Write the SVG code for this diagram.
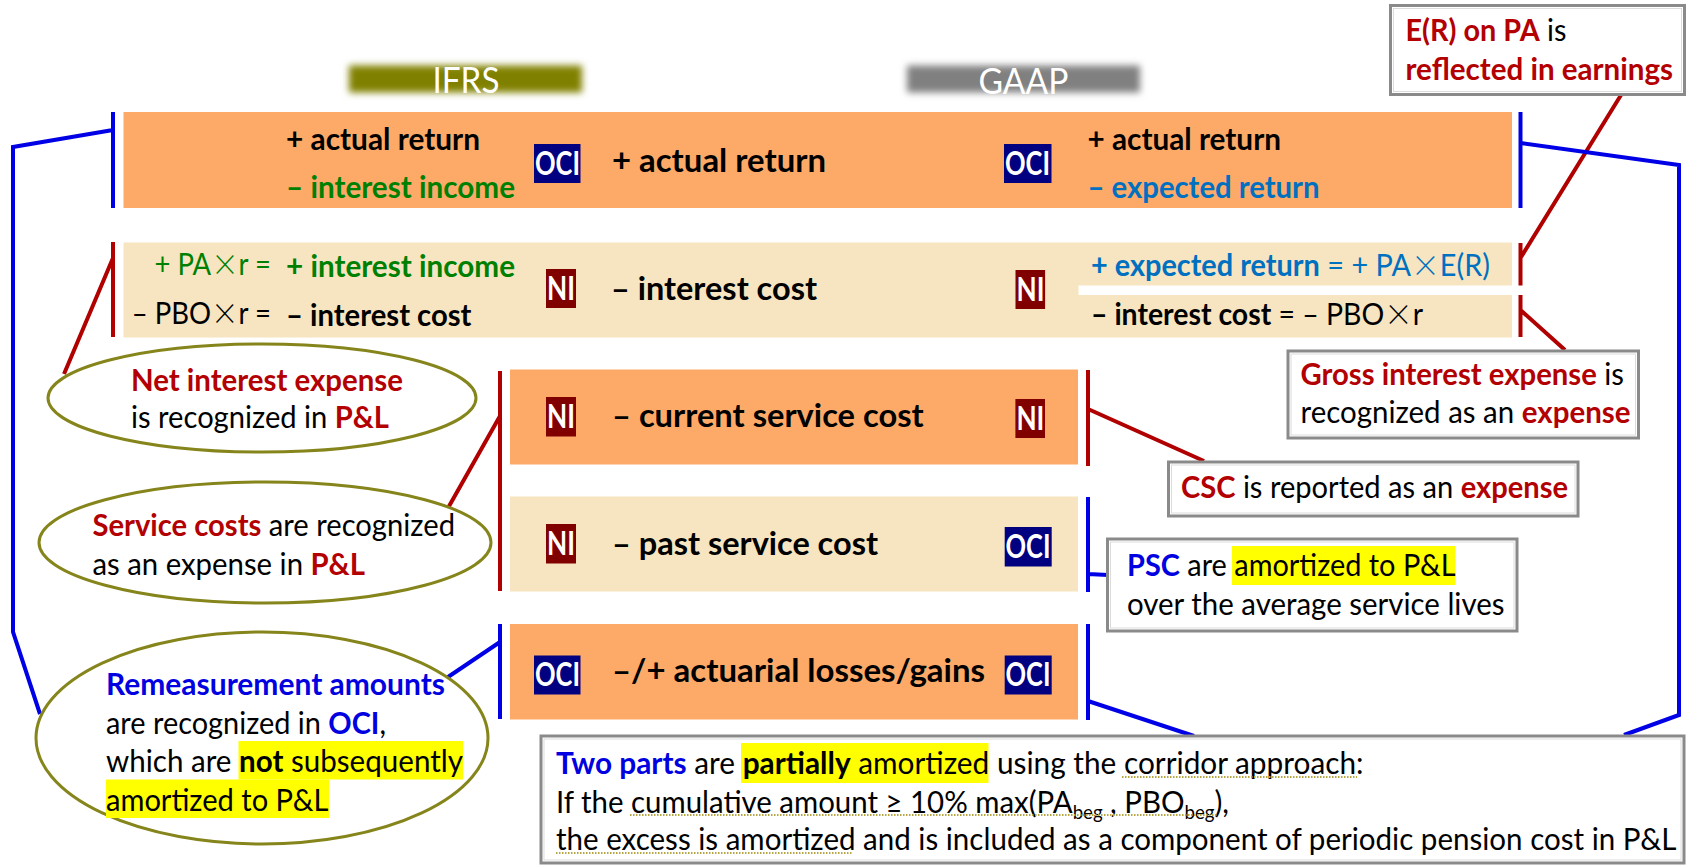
<svg xmlns="http://www.w3.org/2000/svg" width="1690" height="868" viewBox="0 0 1690 868">
<style>
text{font-family:"Lato","Open Sans","Noto Sans",sans-serif;font-size:30px;fill:#000}
.b{font-weight:700}
.big{font-size:33px;font-weight:700}
.r{fill:#b30000}.bl{fill:#0000e0}.g{fill:#008000}.e{fill:#0070c0}
.x{font-family:"Noto Sans CJK SC","Lato",sans-serif;font-weight:300}
.hdr{font-size:36px;fill:#fff}
.bdg{font-size:32px;font-weight:700;fill:#fff}
.orange{fill:#fdaa69}.tan{fill:#f6e5c0}
.ni{fill:#800000}.oci{fill:#000080}
.box{fill:#fff;stroke:#8a8a8a;stroke-width:3}
.inner{fill:none;stroke:#dcdcdc;stroke-width:1}
.ell{fill:#fff;stroke:#85851c;stroke-width:3}
.hl{fill:#ffff00}
.lr{fill:none;stroke:#b00000;stroke-width:4}
.lb{fill:none;stroke:#0000e6;stroke-width:4}
.dot{stroke:#b5a642;stroke-width:2;stroke-dasharray:1.5 1.5;fill:none}
</style>
<defs><filter id="soft" x="-10%" y="-40%" width="120%" height="180%"><feGaussianBlur stdDeviation="3.5"/></filter></defs>

<g id="header-ifrs"><rect x="349" y="65.5" width="233" height="27" fill="#808000" filter="url(#soft)"/><text class="hdr" x="432.5" y="93" textLength="67" lengthAdjust="spacingAndGlyphs">IFRS</text></g>
<g id="header-gaap"><rect x="907" y="65.5" width="233" height="27" fill="#808080" filter="url(#soft)"/><text class="hdr" x="978.5" y="94" textLength="90" lengthAdjust="spacingAndGlyphs">GAAP</text></g>

<g id="row-return">
<rect class="orange" x="123.5" y="112" width="1388.5" height="96"/>
<text class="b" x="286" y="149.5" textLength="194" lengthAdjust="spacingAndGlyphs">+ actual return</text>
<text class="b g" x="286" y="198" textLength="229" lengthAdjust="spacingAndGlyphs">– interest income</text>
<rect class="oci" x="534" y="144" width="46.5" height="39"/><text class="bdg" x="535" y="175" textLength="45" lengthAdjust="spacingAndGlyphs">OCI</text>
<text class="big" x="612" y="172" textLength="214" lengthAdjust="spacingAndGlyphs">+ actual return</text>
<rect class="oci" x="1004" y="144" width="47.5" height="39"/><text class="bdg" x="1005" y="175" textLength="45" lengthAdjust="spacingAndGlyphs">OCI</text>
<text class="b" x="1087.5" y="149.5" textLength="193.5" lengthAdjust="spacingAndGlyphs">+ actual return</text>
<text class="b e" x="1087.5" y="198" textLength="232" lengthAdjust="spacingAndGlyphs">– expected return</text>
</g>

<g id="row-interest">
<rect class="tan" x="123.5" y="242.5" width="1388.5" height="95"/>
<rect x="1078.5" y="285.5" width="434" height="9.5" fill="#fff"/>
<text class="g" x="154.5" y="275" textLength="116.5" lengthAdjust="spacingAndGlyphs">+ PA<tspan class="x">×</tspan>r =</text>
<text x="131.7" y="324" textLength="139.3" lengthAdjust="spacingAndGlyphs">– PBO<tspan class="x">×</tspan>r =</text>
<text class="b g" x="286" y="277" textLength="229" lengthAdjust="spacingAndGlyphs">+ interest income</text>
<text class="b" x="286" y="326" textLength="185.5" lengthAdjust="spacingAndGlyphs">– interest cost</text>
<rect class="ni" x="546" y="269" width="30" height="39"/><text class="bdg" x="547" y="300" textLength="28" lengthAdjust="spacingAndGlyphs">NI</text>
<text class="big" x="611" y="300" textLength="206" lengthAdjust="spacingAndGlyphs">– interest cost</text>
<rect class="ni" x="1015.5" y="270" width="29.6" height="39"/><text class="bdg" x="1016.5" y="301" textLength="28" lengthAdjust="spacingAndGlyphs">NI</text>
<text class="e" x="1091" y="276" textLength="399" lengthAdjust="spacingAndGlyphs"><tspan class="b">+ expected return</tspan> = + PA<tspan class="x">×</tspan>E(R)</text>
<text x="1091" y="325" textLength="332" lengthAdjust="spacingAndGlyphs"><tspan class="b">– interest cost</tspan> = – PBO<tspan class="x">×</tspan>r</text>
</g>

<g id="row-current-service">
<rect class="orange" x="510" y="369.5" width="568" height="95"/>
<rect class="ni" x="546" y="397" width="30" height="39.5"/><text class="bdg" x="547" y="428" textLength="28" lengthAdjust="spacingAndGlyphs">NI</text>
<text class="big" x="612" y="427" textLength="311.7" lengthAdjust="spacingAndGlyphs">– current service cost</text>
<rect class="ni" x="1015.4" y="399" width="29.6" height="39"/><text class="bdg" x="1016.4" y="430" textLength="28" lengthAdjust="spacingAndGlyphs">NI</text>
</g>
<g id="row-past-service">
<rect class="tan" x="510" y="496.5" width="568" height="95"/>
<rect class="ni" x="546" y="524" width="30" height="39.5"/><text class="bdg" x="547" y="555" textLength="28" lengthAdjust="spacingAndGlyphs">NI</text>
<text class="big" x="612" y="555" textLength="266" lengthAdjust="spacingAndGlyphs">– past service cost</text>
<rect class="oci" x="1004.7" y="527" width="47" height="39.5"/><text class="bdg" x="1005.5" y="558" textLength="45" lengthAdjust="spacingAndGlyphs">OCI</text>
</g>
<g id="row-actuarial">
<rect class="orange" x="510" y="624" width="568" height="95.5"/>
<rect class="oci" x="534" y="655.5" width="46.5" height="39"/><text class="bdg" x="535" y="686" textLength="45" lengthAdjust="spacingAndGlyphs">OCI</text>
<text class="big" x="612" y="682" textLength="373" lengthAdjust="spacingAndGlyphs">–/+ actuarial losses/gains</text>
<rect class="oci" x="1004.7" y="655.5" width="47" height="39"/><text class="bdg" x="1005.5" y="686" textLength="45" lengthAdjust="spacingAndGlyphs">OCI</text>
</g>

<g id="connectors">
<path class="lb" d="M113 112V208M113 130L13 147V632L40 714"/>
<path class="lr" d="M113 242V337M113 258L64 374"/>
<path class="lb" d="M1520.5 112V208"/>
<path class="lr" d="M1520.5 243V285.5M1520.5 295V337M1621 95L1520.5 258M1520.5 310L1565 350"/>
<path class="lb" d="M1520.5 143L1679 165V715L1624 735"/>
<path class="lr" d="M500 371V591M500 416L448 508"/>
<path class="lb" d="M500 624V719M500 642L448 677"/>
<path class="lr" d="M1088 370V466M1088 409L1204 461"/>
<path class="lb" d="M1088 497V592M1088 574L1108 575M1088 624V720M1088 701L1194 736"/>
</g>

<g id="note-net-interest">
<ellipse class="ell" cx="262" cy="398" rx="214" ry="54"/>
<text class="b r" x="131" y="391" textLength="272" lengthAdjust="spacingAndGlyphs">Net interest expense</text>
<text x="131" y="428" textLength="258" lengthAdjust="spacingAndGlyphs">is recognized in <tspan class="b r">P&amp;L</tspan></text>
</g>
<g id="note-service-costs">
<ellipse class="ell" cx="265" cy="542.5" rx="226" ry="60.5"/>
<text x="92.5" y="536" textLength="362.5" lengthAdjust="spacingAndGlyphs"><tspan class="b r">Service costs</tspan> are recognized</text>
<text x="92.5" y="574.5" textLength="272.5" lengthAdjust="spacingAndGlyphs">as an expense in <tspan class="b r">P&amp;L</tspan></text>
</g>
<g id="note-remeasurement">
<ellipse class="ell" cx="262" cy="738" rx="226" ry="106"/>
<rect class="hl" x="238.5" y="741" width="224.5" height="38.5"/>
<rect class="hl" x="106" y="779.5" width="223" height="38.5"/>
<text class="b bl" x="106" y="695" textLength="339" lengthAdjust="spacingAndGlyphs">Remeasurement amounts</text>
<text x="106" y="733.5" textLength="280" lengthAdjust="spacingAndGlyphs">are recognized in <tspan class="b bl">OCI</tspan>,</text>
<text x="106" y="771.5" textLength="357" lengthAdjust="spacingAndGlyphs">which are <tspan class="b">not</tspan> subsequently</text>
<text x="106" y="810.5" textLength="222.5" lengthAdjust="spacingAndGlyphs">amortized to P&amp;L</text>
</g>

<g id="note-expected-return">
<rect class="box" x="1390.5" y="5.5" width="294" height="89"/><rect class="inner" x="1393.5" y="8.5" width="288" height="83"/>
<text x="1405.5" y="41" textLength="161" lengthAdjust="spacingAndGlyphs"><tspan class="b r">E(R) on PA</tspan> is</text>
<text class="b r" x="1405.5" y="79.5" textLength="267.5" lengthAdjust="spacingAndGlyphs">reflected in earnings</text>
</g>
<g id="note-gross-interest">
<rect class="box" x="1288" y="351" width="350.5" height="87"/><rect class="inner" x="1291" y="354" width="344.5" height="81"/>
<text x="1300.5" y="385" textLength="323.5" lengthAdjust="spacingAndGlyphs"><tspan class="b r">Gross interest expense</tspan> is</text>
<text x="1300.5" y="423" textLength="330" lengthAdjust="spacingAndGlyphs">recognized as an <tspan class="b r">expense</tspan></text>
</g>
<g id="note-csc">
<rect class="box" x="1168.5" y="462" width="409.5" height="54"/><rect class="inner" x="1171.5" y="465" width="403.5" height="48"/>
<text x="1181" y="498" textLength="387" lengthAdjust="spacingAndGlyphs"><tspan class="b r">CSC</tspan> is reported as an <tspan class="b r">expense</tspan></text>
</g>
<g id="note-psc">
<rect class="box" x="1107.5" y="539" width="409.5" height="92"/><rect class="inner" x="1110.5" y="542" width="403.5" height="86"/>
<rect class="hl" x="1232" y="546" width="223.5" height="39"/>
<text x="1127" y="576" textLength="328.5" lengthAdjust="spacingAndGlyphs"><tspan class="b bl">PSC</tspan> are amortized to P&amp;L</text>
<text x="1127" y="614.5" textLength="377.5" lengthAdjust="spacingAndGlyphs">over the average service lives</text>
</g>
<g id="note-two-parts">
<rect class="box" x="541" y="736" width="1143" height="127"/><rect class="inner" x="544" y="739" width="1137" height="121"/>
<rect class="hl" x="741" y="743" width="247.5" height="40"/>
<text x="556" y="774" textLength="807.5" lengthAdjust="spacingAndGlyphs"><tspan class="b bl">Two parts</tspan> are <tspan class="b">partially</tspan> amortized using the corridor approach:</text>
<text x="556" y="813" textLength="673" lengthAdjust="spacingAndGlyphs">If the cumulative amount ≥ 10% max(PA<tspan font-size="19" dy="6">beg</tspan><tspan dy="-6"> , PBO</tspan><tspan font-size="19" dy="6">beg</tspan><tspan dy="-6">),</tspan></text>
<text x="556" y="850" textLength="1120.5" lengthAdjust="spacingAndGlyphs">the excess is amortized and is included as a component of periodic pension cost in P&amp;L</text>
<path class="dot" d="M1122 777H1357M630 815H1218M556 853H853"/>
</g>
</svg>
